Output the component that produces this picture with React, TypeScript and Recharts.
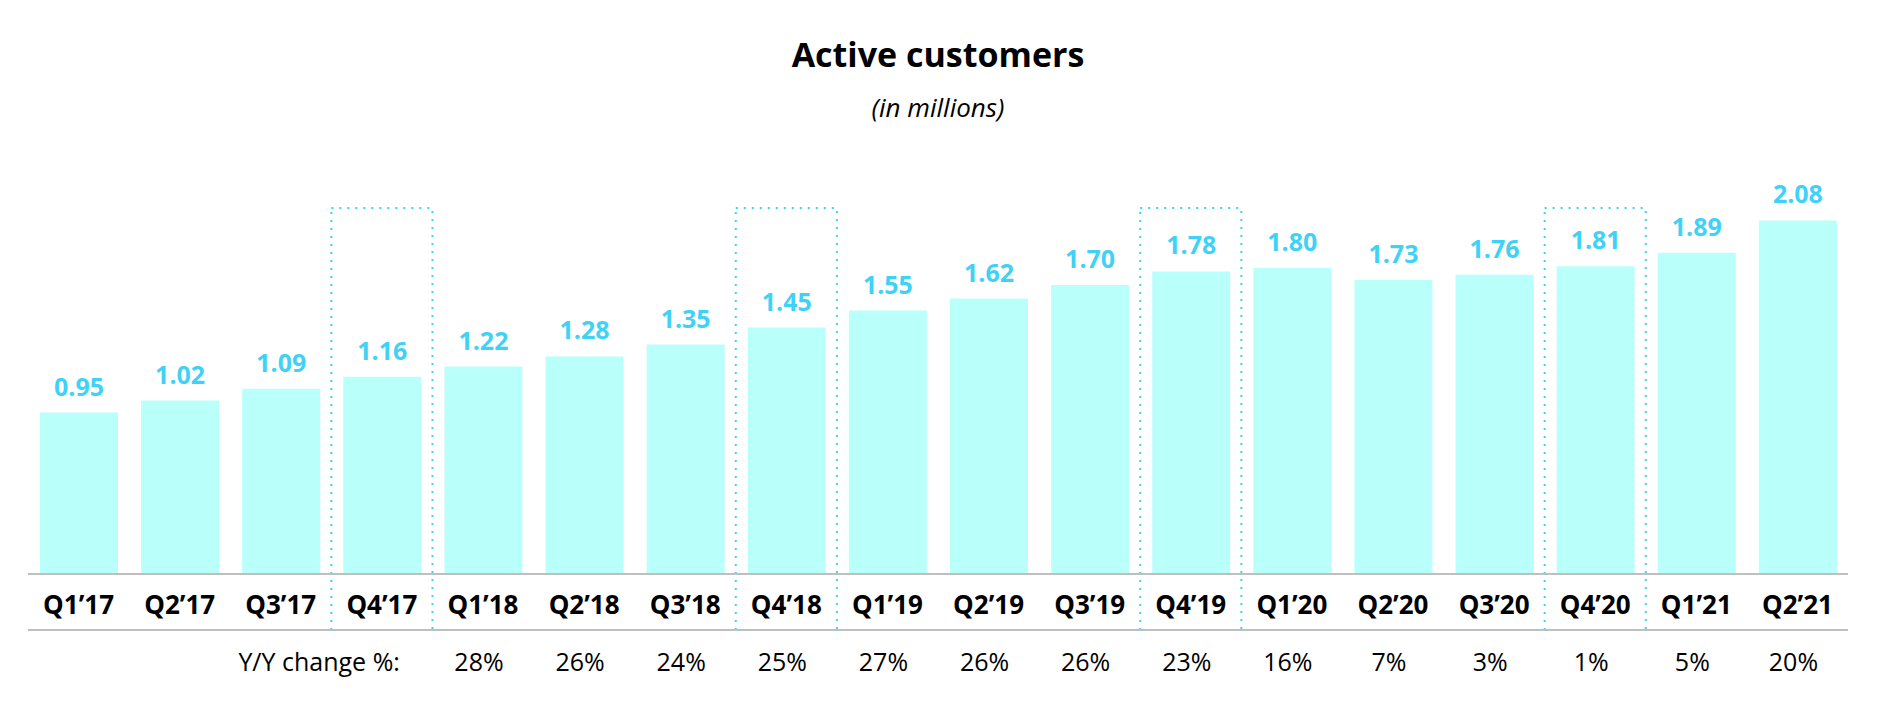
import React from "react";
import { BarChart, Bar, XAxis, YAxis, LabelList, ReferenceArea } from "recharts";

const categories = ["Q1\u201917", "Q2\u201917", "Q3\u201917", "Q4\u201917", "Q1\u201918", "Q2\u201918", "Q3\u201918", "Q4\u201918", "Q1\u201919", "Q2\u201919", "Q3\u201919", "Q4\u201919", "Q1\u201920", "Q2\u201920", "Q3\u201920", "Q4\u201920", "Q1\u201921", "Q2\u201921"];
const customers = [0.95, 1.02, 1.09, 1.16, 1.22, 1.28, 1.35, 1.45, 1.55, 1.62, 1.70, 1.78, 1.80, 1.73, 1.76, 1.81, 1.89, 2.08];
const yoyChange = [null, null, null, null, "28%", "26%", "24%", "25%", "27%", "26%", "26%", "23%", "16%", "7%", "3%", "1%", "5%", "20%"];
const yoyLabel = "Y/Y change %:";
const highlighted = ["Q4\u201917", "Q4\u201918", "Q4\u201919", "Q4\u201920"];

const data = categories.map((c, i) => ({ quarter: c, value: customers[i], yoy: yoyChange[i] }));

const FONT = "'Open Sans', sans-serif";
const CYAN = "#3fd2f6";
const BAR = "#b9fffa";
const GRAY = "#bfbfbf";

const CategoryTick = (props: any) => {
  const { x, y, payload } = props;
  return (
    <text x={x} y={y} dy={40} textAnchor="middle" fontFamily={FONT} fontWeight={700} fontSize={26} fill="#000">
      {payload.value}
    </text>
  );
};

const YoyTick = (props: any) => {
  const { x, y, index } = props;
  const v = yoyChange[index];
  if (v == null) {
    if (index === 3) {
      return (
        <text x={x + 18} y={y} dy={41} textAnchor="end" fontFamily={FONT} fontSize={25} fill="#000">
          {yoyLabel}
        </text>
      );
    }
    return null;
  }
  return (
    <text x={x - 4} y={y} dy={41} textAnchor="middle" fontFamily={FONT} fontSize={25} fill="#000">
      {v}
    </text>
  );
};

export default function App() {
  return (
    <div style={{ position: "absolute", left: 0, top: 0, width: 1877, height: 724, background: "#fff" }}>
      <svg width={1877} height={140} style={{ position: "absolute", left: 0, top: 0 }}>
        <text x={938} y={67} textAnchor="middle" fontFamily={FONT} fontWeight={700} fontSize={34} fill="#000">
          Active customers
        </text>
        <text x={938} y={117} textAnchor="middle" fontFamily={FONT} fontStyle="italic" fontSize={26} fill="#000">
          (in millions)
        </text>
      </svg>
      <div style={{ position: "absolute", left: 0, top: 0 }}>
        <BarChart width={1877} height={724} data={data} margin={{ top: 200, right: 29, bottom: 32, left: 28 }}>
          <YAxis hide domain={[0, 2.2]} type="number" />
          <XAxis
            dataKey="quarter"
            height={56}
            tickLine={false}
            tickSize={0}
            tickMargin={0}
            axisLine={{ stroke: GRAY, strokeWidth: 2 }}
            tick={<CategoryTick />}
            interval={0}
          />
          <XAxis
            xAxisId="yoy"
            dataKey="quarter"
            height={62}
            tickLine={false}
            tickSize={0}
            tickMargin={0}
            axisLine={{ stroke: GRAY, strokeWidth: 2 }}
            tick={<YoyTick />}
            interval={0}
          />
          <XAxis
            xAxisId="end"
            dataKey="quarter"
            height={0}
            tickLine={false}
            tick={false}
            axisLine={{ stroke: GRAY, strokeWidth: 2 }}
          />
          <Bar dataKey="value" fill={BAR} barSize={78} isAnimationActive={false}>
            <LabelList
              dataKey="value"
              position="top"
              offset={17}
              formatter={(v: any) => Number(v).toFixed(2)}
              style={{ fontFamily: FONT, fontWeight: 700, fontSize: 25, fill: CYAN }}
            />
          </Bar>
          {highlighted.map((q) => (
            <ReferenceArea
              key={q}
              x1={q}
              x2={q}
              y1={-0.329}
              y2={2.153}
              ifOverflow="visible"
              fill="none"
              stroke={CYAN}
              strokeWidth={2}
              strokeDasharray="2 6"
            />
          ))}
        </BarChart>
      </div>
    </div>
  );
}
